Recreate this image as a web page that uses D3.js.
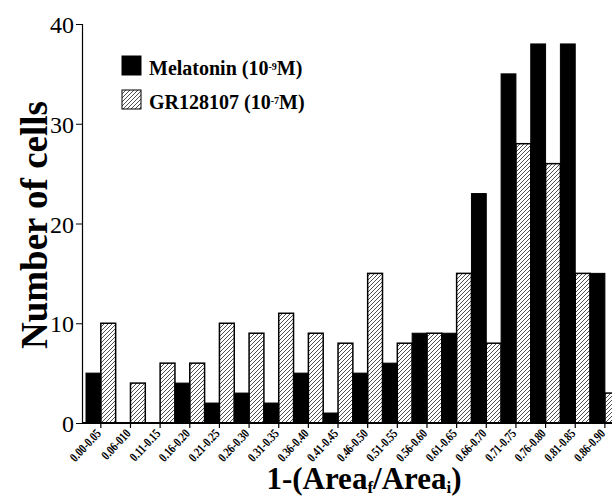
<!DOCTYPE html>
<html>
<head>
<meta charset="utf-8">
<script src="https://cdn.jsdelivr.net/npm/d3@7"></script>
<style>
  body { margin: 0; background: #fff; }
  svg { display: block; }
</style>
</head>
<body>
<div id="chart"></div>
<script>
// data
var categories = ["0.00-0.05", "0.06-010", "0.11-0.15", "0.16-0.20", "0.21-0.25", "0.26-0.30",
  "0.31-0.35", "0.36-0.40", "0.41-0.45", "0.46-0.50", "0.51-0.55", "0.56-0.60",
  "0.61-0.65", "0.66-0.70", "0.71-0.75", "0.76-0.80", "0.81-0.85", "0.86-0.90"];
var melatonin = [5, 0, 0, 4, 2, 3, 2, 5, 1, 5, 6, 9, 9, 23, 35, 38, 38, 15];
var gr128107 = [10, 4, 6, 6, 10, 9, 11, 9, 8, 15, 8, 9, 15, 8, 28, 26, 15, 3];
var yTicks = [0, 10, 20, 30, 40];

var width = 612, height = 497;
var serif = "'Liberation Serif', 'Times New Roman', serif";

var svg = d3.select("#chart").append("svg")
    .attr("width", width)
    .attr("height", height)
    .style("font-family", serif);

// hatch for the GR128107 bars
var defs = svg.append("defs");
defs.append("pattern")
    .attr("id", "hatch")
    .attr("patternUnits", "userSpaceOnUse")
    .attr("width", 4)
    .attr("height", 4)
  .append("path")
    .attr("d", "M-1,1 l2,-2 M0,4 l4,-4 M3,5 l2,-2")
    .attr("stroke", "#222")
    .attr("stroke-width", 0.8);

var axisX = 82, axisY = 423;

var x = d3.scaleBand()
    .domain(categories)
    .range([86, 619.7])
    .paddingInner(0)
    .paddingOuter(0);

var y = d3.scaleLinear()
    .domain([0, 40])
    .range([axisY, 24]);

var bw = x.bandwidth() / 2;

// bars
var groups = svg.append("g").selectAll("g")
    .data(categories)
    .join("g");

groups.append("rect")
    .attr("x", function(d) { return x(d); })
    .attr("y", function(d, i) { return y(melatonin[i]); })
    .attr("width", bw)
    .attr("height", function(d, i) { return axisY - y(melatonin[i]); })
    .attr("fill", "#000")
    .attr("stroke", "#000")
    .attr("stroke-width", 1);

groups.append("rect")
    .attr("x", function(d) { return x(d) + bw; })
    .attr("y", function(d, i) { return y(gr128107[i]); })
    .attr("width", bw)
    .attr("height", function(d, i) { return axisY - y(gr128107[i]); })
    .attr("fill", "url(#hatch)")
    .attr("stroke", "#000")
    .attr("stroke-width", 1.5);

// y axis
var yAxis = svg.append("g")
    .attr("transform", "translate(" + axisX + ",0)")
    .call(d3.axisLeft(y).tickValues(yTicks).tickSize(6).tickPadding(2));
yAxis.attr("font-family", null);
yAxis.select(".domain").attr("stroke-width", 1.2);
yAxis.selectAll("text")
    .style("font-family", serif)
    .style("font-size", "24px")
    .attr("dy", "0.36em");

// x axis
var xAxis = svg.append("g")
    .attr("transform", "translate(0," + axisY + ")");
xAxis.append("line")
    .attr("x1", axisX).attr("x2", width)
    .attr("y1", 0).attr("y2", 0)
    .attr("stroke", "#000")
    .attr("stroke-width", 2);
xAxis.selectAll(".tick")
    .data(categories)
    .join("line")
    .attr("class", "tick")
    .attr("x1", function(d) { return x(d) + bw; })
    .attr("x2", function(d) { return x(d) + bw; })
    .attr("y1", 0).attr("y2", 5)
    .attr("stroke", "#000")
    .attr("stroke-width", 1.2);
xAxis.selectAll(".lab")
    .data(categories)
    .join("text")
    .attr("class", "lab")
    .attr("transform", function(d) {
      return "translate(" + (x(d) + bw + 1) + ",11) rotate(-47) scale(0.78,1)";
    })
    .attr("text-anchor", "end")
    .style("font-family", serif)
    .style("font-size", "13px")
    .style("font-weight", "bold")
    .text(function(d) { return d; });

// axis titles
var xTitle = svg.append("text")
    .attr("x", 364)
    .attr("y", 489)
    .attr("text-anchor", "middle")
    .style("font-family", serif)
    .style("font-size", "31px")
    .style("font-weight", "bold");
xTitle.append("tspan").text("1-(Area");
xTitle.append("tspan").attr("baseline-shift", "-25%").style("font-size", "17px").text("f");
xTitle.append("tspan").text("/Area");
xTitle.append("tspan").attr("baseline-shift", "-25%").style("font-size", "17px").text("i");
xTitle.append("tspan").text(")");

svg.append("text")
    .attr("transform", "translate(47,225) rotate(-90)")
    .attr("text-anchor", "middle")
    .style("font-family", serif)
    .style("font-size", "37px")
    .style("font-weight", "bold")
    .text("Number of cells");

// legend
var legendItems = [
  {fill: "#000", label: "Melatonin (10", sup: "-9", rest: "M)"},
  {fill: "url(#hatch)", label: "GR128107 (10", sup: "-7", rest: "M)"}
];
var legend = svg.append("g").selectAll("g")
    .data(legendItems)
    .join("g")
    .attr("transform", function(d, i) { return "translate(122," + (56 + i * 34) + ")"; });
legend.append("rect")
    .attr("width", 19)
    .attr("height", 19)
    .attr("fill", function(d) { return d.fill; })
    .attr("stroke", "#000")
    .attr("stroke-width", 1);
var lt = legend.append("text")
    .attr("x", 27)
    .attr("y", 19)
    .style("font-family", serif)
    .style("font-size", "20px")
    .style("font-weight", "bold");
lt.append("tspan").text(function(d) { return d.label; });
lt.append("tspan").attr("baseline-shift", "55%").style("font-size", "10px").text(function(d) { return d.sup; });
lt.append("tspan").text(function(d) { return d.rest; });
</script>
</body>
</html>
